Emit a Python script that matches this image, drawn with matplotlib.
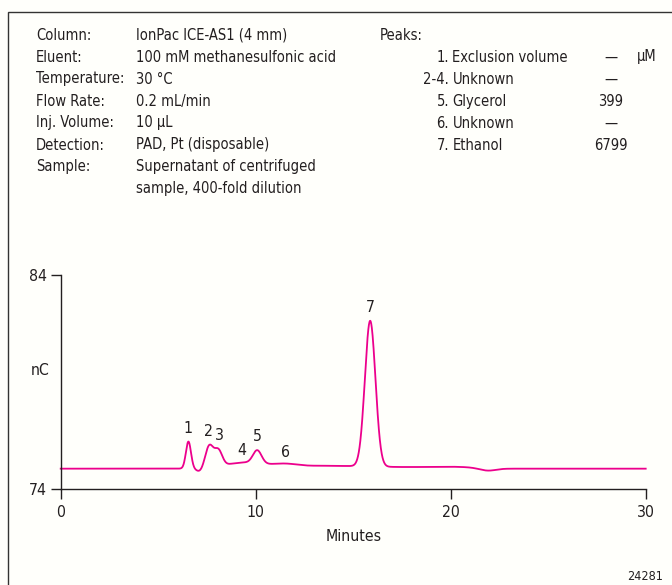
import numpy as np
import matplotlib
matplotlib.use("Agg")
import matplotlib.pyplot as plt
from matplotlib.patches import Rectangle

# ---- data ----
peak_labels = ["1", "2", "3", "4", "5", "6", "7"]
peak_label_x = [6.55, 7.57, 8.14, 9.27, 10.07, 11.52, 15.87]
peak_label_y = [76.85, 76.68, 76.48, 75.79, 76.43, 75.70, 82.46]

# trace components: centre (min), height (nC), width sigma (min)
comp_center = [6.55, 7.12, 7.62, 8.08, 9.4, 10.08, 11.5, 13.0, 15.87, 19.8, 21.9]
comp_height = [1.26, -0.15, 1.00, 0.75, 0.26, 0.61, 0.13, 0.08, 6.81, 0.03, -0.10]
comp_width = [0.13, 0.17, 0.20, 0.20, 1.0, 0.22, 0.6, 2.5, 0.27, 1.0, 0.4]
baseline = 74.95
plateau_height = 0.06
plateau_start, plateau_end = 12.0, 21.3

x_ticks = [0, 10, 20, 30]
y_ticks = [74, 84]

left_labels = ["Column:", "Eluent:", "Temperature:", "Flow Rate:", "Inj. Volume:",
               "Detection:", "Sample:"]
left_values = ["IonPac ICE-AS1 (4 mm)", "100 mM methanesulfonic acid", "30 °C",
               "0.2 mL/min", "10 µL", "PAD, Pt (disposable)",
               "Supernatant of centrifuged", "sample, 400-fold dilution"]
peak_nums = ["1.", "2-4.", "5.", "6.", "7."]
peak_names = ["Exclusion volume", "Unknown", "Glycerol", "Unknown", "Ethanol"]
peak_conc = ["—", "—", "399", "—", "6799"]
unit = "µM"
fig_id = "24281"

# ---- figure ----
W, H = 672, 585
fig = plt.figure(figsize=(W / 100, H / 100), dpi=100)
bg = "#fffffb"
fig.patch.set_facecolor(bg)
plt.rcParams["font.family"] = ["DejaVu Sans"]
plt.rcParams["font.stretch"] = "condensed"
fs = 10.5
fs_ax = 11.3
tc = "#231f20"
tkw = dict(fontsize=fs, color=tc, va="center", fontstretch="condensed")

# border box (extends past right/bottom)
fig.patches.append(Rectangle((8 / W, -0.05), 1.2, 1 - 12 / H + 0.05,
                             transform=fig.transFigure, fill=False,
                             edgecolor="#333333", linewidth=1.0))


def fx(px):
    return px / W


def fy(py):
    return 1 - py / H


row_y = [35, 57, 79, 101, 123, 145, 167, 189]
for lab, y in zip(left_labels, row_y):
    fig.text(fx(36), fy(y), lab, ha="left", **tkw)
for val, y in zip(left_values, row_y):
    fig.text(fx(136), fy(y), val, ha="left", **tkw)

fig.text(fx(380), fy(35), "Peaks:", ha="left", **tkw)
for i, (n, nm, c) in enumerate(zip(peak_nums, peak_names, peak_conc)):
    y = 57 + 22 * i
    fig.text(fx(449), fy(y), n, ha="right", **tkw)
    fig.text(fx(452.5), fy(y), nm, ha="left", **tkw)
    fig.text(fx(611), fy(y), c, ha="center", **tkw)
fig.text(fx(637), fy(57), unit, ha="left", **tkw)

fig.text(fx(663), fy(577), fig_id, fontsize=9, color=tc, va="center", ha="right",
         fontstretch="condensed")

# ---- axes ----
ax_l, ax_r, ax_t, ax_b = 60.7, 645.7, 275, 489
ax = fig.add_axes([ax_l / W, 1 - ax_b / H, (ax_r - ax_l) / W, (ax_b - ax_t) / H])
ax.patch.set_alpha(0)

x = np.linspace(0, 30, 3000)
y = baseline + plateau_height * (1 / (1 + np.exp(-(x - plateau_start) / 0.5))
                                 - 1 / (1 + np.exp(-(x - plateau_end) / 0.3)))
for c, h, w in zip(comp_center, comp_height, comp_width):
    y = y + h * np.exp(-0.5 * ((x - c) / w) ** 2)
ax.plot(x, y, color="#ec008c", linewidth=1.3, clip_on=False)

for lab, lx, ly in zip(peak_labels, peak_label_x, peak_label_y):
    ax.text(lx, ly, lab, ha="center", va="center", fontsize=fs_ax, color=tc,
            fontstretch="condensed")

ax.set_xlim(0, 30)
ax.set_ylim(74, 84)
ax.set_xticks(x_ticks)
ax.set_yticks(y_ticks)
ax.tick_params(direction="out", length=7.2, width=1, colors=tc, labelsize=fs_ax)
ax.tick_params(axis="y", pad=2.5)
ax.tick_params(axis="x", pad=4)
for s in ["top", "right"]:
    ax.spines[s].set_visible(False)
for s in ["left", "bottom"]:
    ax.spines[s].set_color(tc)
    ax.spines[s].set_linewidth(1.0)
ax.set_xlabel("Minutes", fontsize=fs_ax, color=tc, labelpad=6.5, fontstretch="condensed")
ax.text(-0.035, 0.556, "nC", transform=ax.transAxes, ha="center", va="center",
        fontsize=fs_ax, color=tc, fontstretch="condensed")

fig.savefig("out.png", dpi=100, facecolor=bg)
